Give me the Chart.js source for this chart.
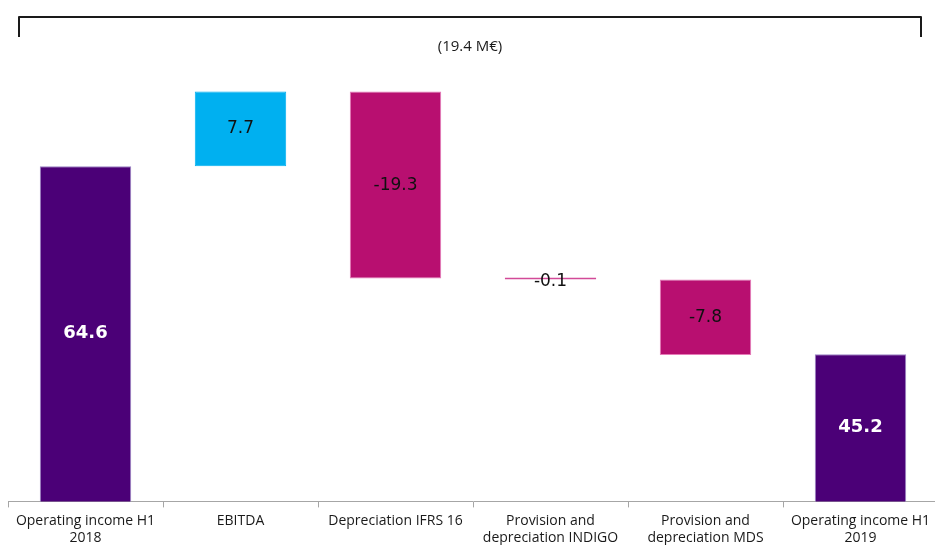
<!DOCTYPE html>
<html>
<head>
<meta charset="utf-8">
<script src="https://cdn.jsdelivr.net/npm/chart.js@4/dist/chart.umd.min.js"></script>
<style>
  html, body { margin: 0; padding: 0; background: #fff; overflow: hidden; }
  #wrap { width: 938px; height: 551px; position: relative; }
</style>
</head>
<body>
<div id="wrap"><canvas id="chart"></canvas></div>
<script>
  // waterfall: start/end pairs per step
  var categories = [
    ['Operating income H1', '2018'],
    'EBITDA',
    'Depreciation IFRS 16',
    ['Provision and', 'depreciation INDIGO'],
    ['Provision and', 'depreciation MDS'],
    ['Operating income H1', '2019']
  ];
  var stepValues = [64.6, 7.7, -19.3, -0.1, -7.8, 45.2];
  var isTotal = [true, false, false, false, false, true];
  var bracketText = '(19.4 M€)';

  var purple = '#4b0077', cyan = '#00b0f0', magenta = '#b80f70';

  var ranges = [];
  var running = 0;
  stepValues.forEach(function(v, i){
    if(isTotal[i]){ ranges.push([0, v]); running = v; }
    else { ranges.push([running, +(running + v).toFixed(1)]); running = +(running + v).toFixed(1); }
  });
  var fills = stepValues.map(function(v, i){ return isTotal[i] ? purple : (v >= 0 ? cyan : magenta); });
  var borders = stepValues.map(function(v, i){
    if(isTotal[i]){ return '#9b84c4'; }
    if(v >= 0){ return cyan; }
    return Math.abs(v) < 0.5 ? '#d24a98' : '#e67ab8';
  });

  var valueLabels = {
    id: 'valueLabels',
    afterDatasetsDraw: function(chart){
      var ctx = chart.ctx;
      var meta = chart.getDatasetMeta(0);
      var area = chart.chartArea;
      ctx.save();
      ctx.textAlign = 'center';
      ctx.textBaseline = 'middle';
      meta.data.forEach(function(bar, i){
        var top = Math.min(bar.y, bar.base);
        var bottom = Math.min(Math.max(bar.y, bar.base), area.bottom);
        var cy = (top + bottom) / 2;
        if(isTotal[i]){
          ctx.font = 'bold 18px "DejaVu Sans"';
          ctx.fillStyle = '#ffffff';
        } else {
          ctx.font = '17px "DejaVu Sans"';
          ctx.fillStyle = '#111111';
          if(bottom - top < 4){ cy += 3; }
        }
        ctx.fillText(stepValues[i].toFixed(1), bar.x, cy);
      });
      ctx.restore();
    }
  };

  var bracket = {
    id: 'bracket',
    afterDraw: function(chart){
      var ctx = chart.ctx;
      var area = chart.chartArea;
      var y = chart.scales.y.getPixelForValue(80);
      var left = area.left + 11, right = area.right - 17;
      ctx.save();
      ctx.strokeStyle = '#1a1a1a';
      ctx.lineWidth = 2;
      ctx.lineJoin = 'round';
      ctx.beginPath();
      ctx.moveTo(left, y + 20);
      ctx.lineTo(left, y);
      ctx.lineTo(right, y);
      ctx.lineTo(right, y + 20);
      ctx.stroke();
      ctx.fillStyle = '#1a1a1a';
      ctx.font = '15px "Open Sans"';
      ctx.textAlign = 'center';
      ctx.textBaseline = 'middle';
      ctx.fillText(bracketText, (left + right) / 2, y + 30);
      ctx.restore();
    }
  };

  new Chart(document.getElementById('chart'), {
    type: 'bar',
    data: {
      labels: categories,
      datasets: [{
        data: ranges,
        backgroundColor: fills,
        borderColor: borders,
        borderWidth: 1,
        borderSkipped: false,
        minBarLength: 2,
        barPercentage: 0.59,
        categoryPercentage: 1
      }]
    },
    options: {
      responsive: true,
      maintainAspectRatio: false,
      animation: false,
      layout: { padding: { left: 8, right: 0, top: 17, bottom: 0 } },
      plugins: {
        legend: { display: false },
        tooltip: { enabled: false }
      },
      scales: {
        x: {
          grid: { display: true, offset: true, drawOnChartArea: false, color: '#a6a6a6', tickLength: 6 },
          border: { color: '#a6a6a6', width: 1 },
          ticks: { color: '#1a1a1a', font: { family: 'Open Sans', size: 14 }, padding: 5, maxRotation: 0, autoSkip: false }
        },
        y: {
          display: false,
          min: 30,
          max: 80
        }
      }
    },
    plugins: [valueLabels, bracket]
  });
</script>
</body>
</html>
